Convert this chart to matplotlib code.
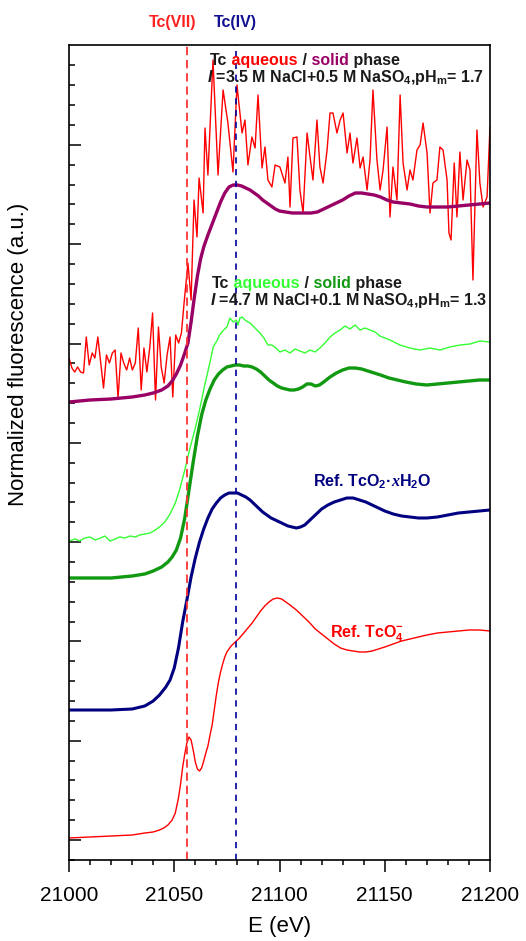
import matplotlib
matplotlib.use('Agg')
import matplotlib.pyplot as plt
from matplotlib.ticker import MultipleLocator, FixedLocator

plt.rcParams.update({
    'font.family': ['Liberation Sans', 'DejaVu Sans'],
    'mathtext.fontset': 'custom',
    'mathtext.rm': 'Liberation Sans:bold',
    'mathtext.it': 'Liberation Sans:italic:bold',
    'mathtext.bf': 'Liberation Sans:bold',
    'mathtext.sf': 'Liberation Sans:bold',
    'lines.scale_dashes': False,
})

# ---------------- data ----------------
# Ref. TcO4- (thin red)
e_tco4 = [21000, 21010, 21020, 21030, 21036, 21040, 21043, 21045, 21047, 21049,
          21050.5, 21052, 21053, 21054, 21055, 21056, 21057, 21058, 21059, 21060,
          21061, 21062, 21063, 21064, 21065, 21066, 21067, 21068, 21069, 21070,
          21071, 21072, 21073, 21074, 21075, 21077, 21079, 21081, 21083, 21085,
          21087, 21089, 21091, 21093, 21095, 21097, 21099, 21101, 21103, 21105,
          21108, 21111, 21114, 21117, 21120, 21123, 21126, 21129, 21132, 21135,
          21138, 21141, 21144, 21147, 21150, 21154, 21158, 21162, 21166, 21170,
          21175, 21180, 21185, 21190, 21195, 21200]
y_tco4 = [0.22, 0.23, 0.24, 0.25, 0.27, 0.28, 0.30, 0.32, 0.35, 0.40,
          0.47, 0.62, 0.76, 0.93, 1.06, 1.17, 1.23, 1.20, 1.10, 0.98,
          0.91, 0.89, 0.92, 0.99, 1.07, 1.14, 1.25, 1.35, 1.50, 1.65,
          1.78, 1.88, 1.96, 2.03, 2.08, 2.14, 2.18, 2.22, 2.27, 2.32,
          2.37, 2.43, 2.49, 2.54, 2.58, 2.61, 2.62, 2.61, 2.58, 2.55,
          2.50, 2.44, 2.38, 2.31, 2.26, 2.21, 2.16, 2.12, 2.10, 2.09,
          2.08, 2.08, 2.09, 2.11, 2.13, 2.16, 2.19, 2.21, 2.23, 2.25,
          2.27, 2.28, 2.29, 2.30, 2.30, 2.29]

# Ref. TcO2.xH2O (navy)
e_tco2 = [21000, 21010, 21020, 21030, 21036, 21040, 21043, 21046, 21048, 21050,
          21052, 21054, 21056, 21058, 21060, 21062, 21064, 21066, 21068, 21070,
          21072, 21074, 21076, 21078, 21080, 21082, 21084, 21086, 21088, 21090,
          21092, 21094, 21096, 21098, 21100, 21102, 21104, 21106, 21108, 21110,
          21112, 21114, 21116, 21118, 21120, 21123, 21126, 21129, 21132, 21135,
          21138, 21141, 21144, 21147, 21150, 21154, 21158, 21162, 21166, 21170,
          21175, 21180, 21185, 21190, 21195, 21200]
y_tco2 = [1.50, 1.50, 1.50, 1.51, 1.54, 1.59, 1.65, 1.73, 1.80, 1.92,
          2.12, 2.38, 2.60, 2.83, 3.02, 3.18, 3.31, 3.42, 3.51, 3.57,
          3.62, 3.65, 3.67, 3.67, 3.67, 3.65, 3.63, 3.60, 3.56, 3.52,
          3.48, 3.45, 3.42, 3.40, 3.38, 3.36, 3.34, 3.33, 3.32, 3.33,
          3.35, 3.39, 3.43, 3.47, 3.51, 3.55, 3.58, 3.60, 3.62, 3.62,
          3.60, 3.58, 3.55, 3.52, 3.49, 3.46, 3.44, 3.43, 3.42, 3.42,
          3.43, 3.45, 3.47, 3.48, 3.49, 3.50]

# Solid phase, I = 4.7 M NaCl + 0.1 M NaSO4 (dark green)
e_sol2 = [21000, 21010, 21020, 21030, 21036, 21040, 21044, 21047, 21049, 21051,
          21053, 21055, 21057, 21059, 21061, 21063, 21065, 21067, 21069, 21071,
          21073, 21075, 21077, 21079, 21081, 21083, 21085, 21087, 21089, 21091,
          21093, 21095, 21097, 21099, 21101, 21103, 21105, 21107, 21109, 21111,
          21113, 21115, 21117, 21119, 21121, 21124, 21127, 21130, 21133, 21136,
          21139, 21142, 21145, 21148, 21152, 21156, 21160, 21165, 21170, 21175,
          21180, 21185, 21190, 21195, 21200]
y_sol2 = [2.82, 2.82, 2.82, 2.84, 2.86, 2.89, 2.93, 2.98, 3.03, 3.10,
          3.22, 3.42, 3.70, 3.98, 4.24, 4.45, 4.60, 4.71, 4.80, 4.86,
          4.90, 4.93, 4.94, 4.95, 4.95, 4.94, 4.94, 4.93, 4.91, 4.88,
          4.84, 4.80, 4.77, 4.74, 4.72, 4.71, 4.70, 4.70, 4.71, 4.73,
          4.76, 4.76, 4.74, 4.75, 4.78, 4.83, 4.87, 4.90, 4.92, 4.92,
          4.91, 4.89, 4.87, 4.85, 4.82, 4.80, 4.78, 4.76, 4.75, 4.76,
          4.77, 4.78, 4.79, 4.80, 4.80]

# Aqueous phase, I = 4.7 M NaCl + 0.1 M NaSO4 (light green)
e_aq2 = [21000, 21003, 21005, 21007.5, 21010, 21012.5, 21015, 21017, 21019.5, 21022,
         21024, 21026.5, 21029, 21031.5, 21033.5, 21036, 21038.5, 21041, 21043, 21045.5,
         21048, 21050.5, 21052.5, 21055, 21057.5, 21060, 21062, 21064.5, 21067, 21068.5,
         21070.5, 21071.5, 21073.5, 21075, 21076.5, 21078, 21079.5, 21080.3, 21081.2, 21082.2,
         21083.6, 21085, 21086, 21088.4, 21090.7, 21092.6, 21094.5, 21096.4, 21098.3, 21100.2,
         21102.6, 21105, 21107.4, 21109.7, 21112.1, 21114.5, 21116.9, 21119.2, 21121.6, 21124,
         21126.4, 21128.8, 21131.1, 21133.5, 21135.9, 21138.2, 21140.6, 21143, 21145.4, 21147.7,
         21152.5, 21157.2, 21162, 21166.7, 21171.5, 21176.2, 21181, 21185.7, 21190.5, 21195.2,
         21200]
y_aq2 = [3.19, 3.21, 3.19, 3.22, 3.23, 3.20, 3.22, 3.24, 3.19, 3.21,
         3.23, 3.22, 3.24, 3.23, 3.25, 3.26, 3.27, 3.30, 3.33, 3.38,
         3.46, 3.57, 3.70, 3.90, 4.12, 4.32, 4.50, 4.75, 4.98, 5.13,
         5.20, 5.25, 5.30, 5.33, 5.42, 5.38, 5.40, 5.35, 5.42, 5.43,
         5.40, 5.38, 5.37, 5.32, 5.27, 5.22, 5.15, 5.15, 5.12, 5.08,
         5.10, 5.07, 5.11, 5.09, 5.07, 5.10, 5.08, 5.12, 5.17, 5.23,
         5.27, 5.30, 5.34, 5.31, 5.35, 5.30, 5.32, 5.30, 5.28, 5.24,
         5.20, 5.15, 5.12, 5.10, 5.12, 5.10, 5.13, 5.15, 5.16, 5.19,
         5.18]

# Solid phase, I = 3.5 M NaCl + 0.5 M NaSO4 (purple)
e_sol1 = [21000, 21010, 21020, 21030, 21036, 21040, 21044, 21047, 21049, 21051,
          21053, 21055, 21056.5, 21058, 21059.5, 21061, 21062.5, 21064, 21066, 21068,
          21070, 21072, 21074, 21076, 21078, 21080, 21082, 21084, 21086, 21088,
          21090, 21092, 21094, 21096, 21098, 21100, 21103, 21106, 21109, 21112,
          21115, 21118, 21121, 21124, 21127, 21130, 21133, 21136, 21139, 21142,
          21145, 21148, 21151, 21154, 21158, 21162, 21166, 21170, 21175, 21180,
          21185, 21190, 21195, 21200]
y_sol1 = [4.58, 4.60, 4.61, 4.63, 4.65, 4.67, 4.70, 4.74, 4.79, 4.86,
          4.95, 5.07, 5.17, 5.38, 5.62, 5.84, 6.01, 6.13, 6.25, 6.36,
          6.47, 6.58, 6.67, 6.73, 6.75, 6.75, 6.74, 6.72, 6.70, 6.67,
          6.64, 6.60, 6.57, 6.54, 6.51, 6.49, 6.48, 6.47, 6.47, 6.47,
          6.47, 6.48, 6.51, 6.54, 6.57, 6.60, 6.64, 6.67, 6.67, 6.66,
          6.65, 6.63, 6.60, 6.58, 6.57, 6.56, 6.54, 6.53, 6.53, 6.53,
          6.54, 6.55, 6.56, 6.57]

# Aqueous phase, I = 3.5 M NaCl + 0.5 M NaSO4 (noisy red)
e_aq1 = [21000.0, 21001.4, 21002.7, 21004.1, 21005.5, 21006.9, 21008.2, 21009.6, 21011.0, 21012.3,
         21013.7, 21015.1, 21016.4, 21017.8, 21019.2, 21020.6, 21021.9, 21023.3, 21024.7, 21026.0,
         21027.4, 21028.8, 21030.1, 21031.5, 21032.9, 21034.3, 21035.6, 21037.0, 21038.4, 21039.7,
         21041.1, 21042.5, 21043.8, 21045.2, 21046.6, 21048.0, 21049.3, 21050.7, 21052.1, 21053.4,
         21054.8, 21056.5, 21058.0, 21059.4, 21060.8, 21061.8, 21063.7, 21064.6, 21066.0, 21068.4,
         21070.8, 21073.2, 21075.5, 21077.9, 21079.8, 21082.2, 21083.6, 21085.0, 21086.9, 21088.4,
         21089.8, 21091.7, 21093.1, 21094.5, 21096.4, 21097.9, 21100.2, 21102.6, 21104.0, 21105.0,
         21106.4, 21108.3, 21109.7, 21111.2, 21113.1, 21114.5, 21115.9, 21117.8, 21119.2, 21120.7,
         21122.6, 21124.0, 21125.4, 21127.3, 21128.8, 21130.2, 21132.1, 21133.5, 21134.9, 21136.8,
         21138.3, 21139.7, 21141.6, 21143.0, 21144.4, 21146.3, 21147.8, 21149.2, 21151.1, 21152.5,
         21153.9, 21155.8, 21157.3, 21158.7, 21160.6, 21162.0, 21163.4, 21165.3, 21166.8, 21168.2,
         21170.1, 21171.5, 21172.9, 21174.8, 21176.2, 21177.7, 21179.6, 21180.5, 21181.5, 21183.0,
         21184.3, 21185.7, 21187.2, 21189.1, 21190.5, 21191.9, 21193.8, 21195.2, 21196.7, 21198.6,
         21200.0]
y_aq1 = [5.02, 4.92, 4.88, 4.93, 4.88, 4.87, 5.23, 4.95, 5.07, 5.02,
         5.23, 4.97, 4.72, 5.05, 4.97, 5.07, 5.10, 4.62, 5.07, 4.97,
         4.90, 5.02, 4.90, 4.97, 5.32, 4.70, 5.12, 4.88, 5.13, 5.47,
         4.60, 5.33, 4.93, 4.77, 5.05, 5.23, 4.63, 5.25, 5.17, 5.27,
         5.60, 5.97, 5.60, 6.60, 6.23, 6.82, 6.47, 7.32, 6.85, 8.00,
         6.85, 7.70, 7.37, 6.88, 7.75, 7.27, 7.40, 6.95, 7.23, 7.12,
         7.65, 6.92, 7.13, 6.80, 6.73, 6.95, 6.93, 6.77, 7.03, 6.53,
         7.22, 7.23, 6.70, 6.47, 7.27, 7.03, 6.80, 7.40, 6.93, 6.77,
         7.10, 7.47, 7.47, 7.27, 7.40, 7.47, 7.07, 7.27, 6.97, 7.22,
         6.92, 7.03, 6.70, 7.00, 7.70, 7.00, 6.70, 6.90, 7.33, 6.43,
         6.93, 6.60, 7.65, 6.97, 6.70, 6.90, 6.80, 7.10, 7.15, 7.37,
         7.07, 6.47, 6.77, 6.80, 7.13, 7.10, 6.80, 6.27, 6.20, 6.97,
         6.43, 7.08, 6.60, 7.00, 6.90, 5.80, 7.30, 6.77, 6.53, 6.63,
         7.33]

# edge positions (eV)
e_vii = 21056.2
e_iv = 21079.2

xticks = [21000, 21050, 21100, 21150, 21200]

# ---------------- figure ----------------
fig = plt.figure(figsize=(5.26, 9.41), dpi=100)
ax = fig.add_axes([69/526, 81/941, 421/526, 815/941])

ax.plot(e_tco4, y_tco4, color='#FF0000', lw=1.0)
ax.plot(e_tco2, y_tco2, color='#000080', lw=2.2)
ax.plot(e_aq2, y_aq2, color='#33FF33', lw=1.0)
ax.plot(e_sol2, y_sol2, color='#119911', lw=2.4)
ax.plot(e_aq1, y_aq1, color='#FF0000', lw=1.0)
ax.plot(e_sol1, y_sol1, color='#990066', lw=2.4)

ax.axvline(e_vii, color='#FF3333', lw=1.3, ls=(0, (6, 3.5)))
ax.axvline(e_iv, color='#000099', lw=1.2, ls=(0, (4.5, 4)))

ax.set_xlim(21000, 21200)
ax.set_ylim(0, 8.15)
ax.set_xticks(xticks)
ax.xaxis.set_minor_locator(MultipleLocator(10))
ax.ticklabel_format(axis='x', useOffset=False)
ymaj = [0.2 + 0.993 * k for k in range(8)]
ymin = [0.2 + 0.1986 * k for k in range(-1, 40)]
ax.yaxis.set_major_locator(FixedLocator(ymaj))
ax.yaxis.set_minor_locator(FixedLocator(ymin))
ax.tick_params(axis='x', which='major', direction='out', length=8.4, width=1.1,
               labelsize=15, pad=10, top=False)
ax.tick_params(axis='x', which='minor', direction='out', length=3.6, width=1.1, top=False)
ax.tick_params(axis='y', which='major', direction='in', length=8.6, width=1.1,
               right=False, labelleft=False)
ax.tick_params(axis='y', which='minor', direction='in', length=4.3, width=1.1, right=False)
for s in ax.spines.values():
    s.set_linewidth(1.2)

ax.set_xlabel('E (eV)', fontsize=16, labelpad=8)
ax.set_ylabel('Normalized fluorescence (a.u.)', fontsize=16)
ax.yaxis.set_label_coords(-0.095, 0.62)

FS = 11.5


def rainbow(x, y, pieces, **kw):
    s0, c0 = pieces[0][0], pieces[0][1]
    extra0 = pieces[0][2] if len(pieces[0]) > 2 else {}
    t = ax.text(x, y, s0, color=c0, va='baseline', ha='left', fontsize=FS,
                fontweight='bold', **{**kw, **extra0})
    for p in pieces[1:]:
        s, c = p[0], p[1]
        extra = p[2] if len(p) > 2 else {}
        t = ax.annotate(s, xy=(1, y), xycoords=(t, 'data'), va='baseline', ha='left',
                        color=c, fontsize=FS, fontweight='bold', **{**kw, **extra})
    return t


# labels above the plot
trans = ax.get_xaxis_transform()
ax.text(21049.3, 1.022, 'Tc(VII)', transform=trans, color='#FF2020', fontsize=FS,
        fontweight='bold', ha='center', va='baseline', clip_on=False)
ax.text(21079.0, 1.022, 'Tc(IV)', transform=trans, color='#101090', fontsize=FS,
        fontweight='bold', ha='center', va='baseline', clip_on=False)

# annotation 1
rainbow(21067.0, 7.95, [('Tc', '#1a1a1a'), (' aqueous', '#FF0000'),
                        (' /', '#1a1a1a'), (' solid', '#990066'), (' phase', '#1a1a1a')])
ax.text(21065.6, 7.78, r'$I$ =3.5 M NaCl+0.5 M NaSO$_4$,pH$_\mathrm{m}$= 1.7',
        color='#1a1a1a', fontsize=FS, fontweight='bold', va='baseline')

# annotation 2
rainbow(21067.9, 5.72, [('Tc', '#1a1a1a'), (' aqueous', '#33FF33'),
                        (' /', '#1a1a1a'), (' solid', '#119911'), (' phase', '#1a1a1a')])
ax.text(21067.0, 5.55, r'$I$ =4.7 M NaCl+0.1 M NaSO$_4$,pH$_\mathrm{m}$= 1.3',
        color='#1a1a1a', fontsize=FS, fontweight='bold', va='baseline')

# reference labels
rainbow(21115.9, 3.74, [('Ref. TcO$_2$\u00b7', '#000080'),
                        ('x', '#000080', {'family': 'Liberation Serif', 'style': 'italic'}),
                        ('H$_2$O', '#000080')])
ax.text(21124.0, 2.23, 'Ref. TcO$_4^{-}$', color='#FF0000', fontsize=FS,
        fontweight='bold', va='baseline')

fig.savefig('out.png', dpi=100)
